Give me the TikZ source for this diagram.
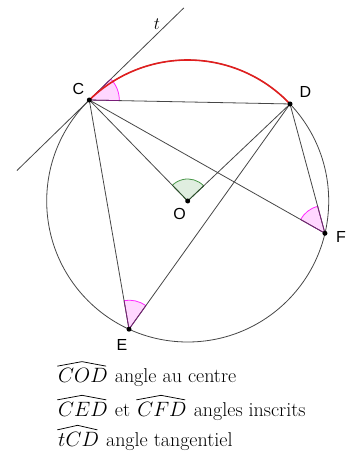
\documentclass[tikz,border=0pt]{standalone}
\usepackage{fontspec}
\newfontfamily\labfont{Liberation Sans}
\usetikzlibrary{calc}
\definecolor{linegray}{RGB}{70,70,70}
\definecolor{arcred}{RGB}{225,30,30}
\definecolor{pinkfill}{RGB}{255,215,255}
\definecolor{magentaline}{RGB}{255,40,255}
\definecolor{purpleedge}{RGB}{120,30,120}
\definecolor{greenfill}{RGB}{224,238,224}
\definecolor{greenline}{RGB}{70,150,70}
\definecolor{greenedge}{RGB}{40,80,40}
\tikzset{
  seg/.style={draw=linegray, line width=0.8pt},
  ptdot/.style={circle, fill=black, inner sep=0pt, minimum size=5pt},
  ptlabel/.style={font=\labfont\fontsize{16}{16}\selectfont, inner sep=0pt},
  legend/.style={anchor=base west, inner sep=0pt, font=\fontsize{20}{20}\selectfont},
  hat/.style={draw=black, line width=0.75pt, line join=round, line cap=round}
}
\begin{document}
\begin{tikzpicture}[x=1pt,y=1pt]
\useasboundingbox (0,0) rectangle (345,454);
\coordinate (O) at (187.7,253);
\coordinate (C) at ([shift={(134.26:141)}]O);
\coordinate (D) at ([shift={(43.48:141)}]O);
\coordinate (F) at ([shift={(-13.24:141)}]O);
\coordinate (E) at ([shift={(245.4:141)}]O);
\coordinate (T1) at ([shift={(44.26:132)}]C);
\coordinate (T2) at ([shift={(224.26:101)}]C);
% circle
\draw[linegray, line width=0.8pt] (O) circle[radius=141];
% sectors fill
\fill[pinkfill] (C) -- ([shift={(-1.14:30)}]C) arc[start angle=-1.14, end angle=44.26, radius=30] -- cycle;
\fill[greenfill] (O) -- ([shift={(43.48:22)}]O) arc[start angle=43.48, end angle=134.26, radius=22] -- cycle;
\fill[pinkfill] (F) -- ([shift={(105.1:28)}]F) arc[start angle=105.1, end angle=150.5, radius=28] -- cycle;
\fill[pinkfill] (E) -- ([shift={(54.45:29)}]E) arc[start angle=54.45, end angle=99.8, radius=29] -- cycle;
% sector arcs
\draw[magentaline, line width=0.8pt] ([shift={(-1.14:30)}]C) arc[start angle=-1.14, end angle=44.26, radius=30];
\draw[greenline, line width=0.8pt] ([shift={(43.48:22)}]O) arc[start angle=43.48, end angle=134.26, radius=22];
\draw[magentaline, line width=0.8pt] ([shift={(105.1:28)}]F) arc[start angle=105.1, end angle=150.5, radius=28];
\draw[magentaline, line width=0.8pt] ([shift={(54.45:29)}]E) arc[start angle=54.45, end angle=99.8, radius=29];
% lines
\draw[seg] (T1) -- (T2);
\draw[seg] (C) -- (D);
\draw[seg] (C) -- (O);
\draw[seg] (O) -- (D);
\draw[seg] (C) -- (E);
\draw[seg] (E) -- (D);
\draw[seg] (C) -- (F);
\draw[seg] (D) -- (F);
% sector edges
\draw[greenedge, line width=0.8pt] ([shift={(43.48:22)}]O) -- (O) -- ([shift={(134.26:22)}]O);
\draw[purpleedge, line width=0.8pt] ([shift={(105.1:28)}]F) -- (F) -- ([shift={(150.5:28)}]F);
\draw[purpleedge, line width=0.8pt] ([shift={(54.45:29)}]E) -- (E) -- ([shift={(99.8:29)}]E);
\draw[purpleedge, line width=0.8pt] ([shift={(-1.14:30)}]C) -- (C) -- ([shift={(44.26:30)}]C);
% red arc
\draw[arcred, line width=1.6pt] (C) arc[start angle=134.26, end angle=43.48, radius=141];
% points
\node[ptdot] (Cp) at (C) {};
\node[ptdot] (Dp) at (D) {};
\node[ptdot] (Op) at (O) {};
\node[ptdot] (Fp) at (F) {};
\node[ptdot] (Ep) at (E) {};
% labels
\node[ptlabel] (Cl) at (78.5,365) {C};
\node[ptlabel] (Dl) at (305.5,361.5) {D};
\node[ptlabel] (Ol) at (179.5,240.5) {O};
\node[ptlabel] (Fl) at (341,216.5) {F};
\node[ptlabel] (El) at (122,109) {E};
\node[inner sep=0pt, font=\fontsize{17}{17}\selectfont] (tl) at (157,430) {$t$};
% legend
\node[legend] (m11) at (58,71) {$COD$};
\node[legend] (t11) at ([xshift=6.7pt]m11.base east) {angle au centre};
\node[legend] (m21) at (58,37.3) {$CED$};
\node[legend] (t21) at ([xshift=6.7pt]m21.base east) {et};
\node[legend] (m22) at ([xshift=6.7pt]t21.base east) {$CFD$};
\node[legend] (t22) at ([xshift=6.7pt]m22.base east) {angles inscrits};
\node[legend] (m31) at (58,7.3) {$tCD$};
\node[legend] (t31) at ([xshift=6.7pt]m31.base east) {angle tangentiel};
\foreach \n in {m11,m21,m22,m31}{
  \draw[hat] ([xshift=-0.5pt,yshift=2.5pt]\n.north west) -- ([xshift=-1pt,yshift=7pt]\n.north) -- ([xshift=-2pt,yshift=2.5pt]\n.north east);
}
\end{tikzpicture}
\end{document}
